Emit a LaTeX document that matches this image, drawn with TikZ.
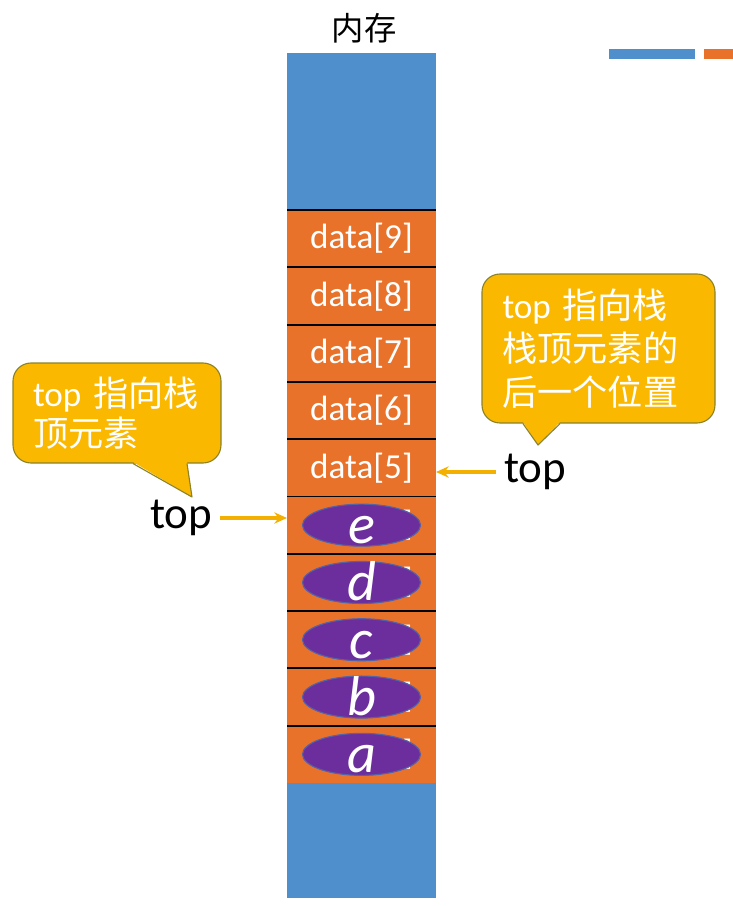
\documentclass[tikz,border=0pt]{standalone}
\usepackage{fontspec}
\setmainfont{Carlito}
\newfontfamily\cjk{Noto Sans CJK SC}
\usepackage{tikz}
\usetikzlibrary{positioning, shapes.geometric, arrows.meta, calc}
\definecolor{MemBlue}{RGB}{79,143,204}
\definecolor{CellOrange}{RGB}{233,114,43}
\definecolor{ItemPurple}{RGB}{108,46,156}
\definecolor{ItemEdge}{RGB}{84,98,168}
\definecolor{NoteGold}{RGB}{250,184,0}
\definecolor{NoteEdge}{RGB}{140,130,40}
\definecolor{PtrGold}{RGB}{244,176,0}
\NewDocumentCommand{\itemletter}{m}{\raisebox{-0.46cm}[0pt][0pt]{\itshape #1}}

\begin{document}
\begin{tikzpicture}[node distance=0pt,>={Stealth[length=9pt,width=8pt]},
        block/.style={fill=MemBlue,minimum width=3.725cm,inner sep=0pt,outer sep=0pt},
        cell/.style={fill=CellOrange,minimum width=3.725cm,minimum height=1.4325cm,inner sep=0pt,outer sep=0pt,
          text=white,font=\fontsize{25}{25}\selectfont},
        item/.style={ellipse,fill=ItemPurple,draw=ItemEdge,thick,minimum width=2.95cm,minimum height=1.05cm,
          inner sep=0pt,text=white,font=\fontsize{40}{40}\selectfont},
        note/.style={rounded corners=0.45cm,fill=NoteGold,draw=NoteEdge,thick,inner sep=0pt,text=white,align=left},
        ptr/.style={->,draw=PtrGold,line width=2.4pt},
        divider/.style={line width=1.4pt,black},
        toplabel/.style={font=\fontsize{32}{32}\selectfont}]

      \useasboundingbox (0,0) rectangle (18.325,-22.65);

      % memory column
      \node[font=\cjk\fontsize{23}{23}\selectfont] (memlabel) at (9.1,-0.7) {内存};
      \node[block,minimum height=3.925cm] (upper) at (9.0375,-3.2875) {};
      \node[cell,below=of upper] (c9) {data[9]};
      \node[cell,below=of c9] (c8) {data[8]};
      \node[cell,below=of c8] (c7) {data[7]};
      \node[cell,below=of c7] (c6) {data[6]};
      \node[cell,below=of c6] (c5) {data[5]};
      \node[cell,below=of c5] (c4) {data[4]};
      \node[cell,below=of c4] (c3) {data[3]};
      \node[cell,below=of c3] (c2) {data[2]};
      \node[cell,below=of c2] (c1) {data[1]};
      \node[cell,below=of c1] (c0) {data[0]};
      \node[block,minimum height=2.875cm,below=of c0] (lower) {};
      \foreach \i in {0,...,9}
        \draw[divider] (c\i.north west) -- (c\i.north east);

      % stacked elements
      \node[item] (ie) at (c4) {\itemletter{e}};
      \node[item] (id) at (c3) {\itemletter{d}};
      \node[item] (ic) at (c2) {\itemletter{c}};
      \node[item] (ib) at (c1) {\itemletter{b}};
      \node[item] (ia) at (c0) {\itemletter{a}};

      % top pointers
      \node[toplabel] (topL) at (4.525,-12.95) {top};
      \node[toplabel] (topR) at (13.375,-11.8) {top};
      \draw[ptr,shorten <=2pt] (topL.east) -- (topL.east -| c4.west);
      \draw[ptr,shorten <=2pt] (topR.west) -- (topR.west -| c5.east);

      % callouts
      \node[note,minimum width=5.2cm,minimum height=2.5cm,text width=4.2cm,font=\fontsize{25}{28}\selectfont]
        (noteL) at (2.925,-10.325) {top {\cjk 指向栈}\\{\cjk 顶元素}};
      \coordinate (tipL) at (4.8,-12.425);
      \fill[NoteGold] ($(noteL.south)+(0.4,0.04)$) -- (tipL) -- ($(noteL.south)+(1.75,0.04)$) -- cycle;
      \draw[NoteEdge,thick,line join=round] ($(noteL.south)+(0.4,0)$) -- (tipL) -- ($(noteL.south)+(1.75,0)$);

      \node[note,minimum width=5.825cm,minimum height=3.725cm,text width=4.8cm,font=\fontsize{25}{31}\selectfont]
        (noteR) at (14.9625,-8.7125) {top {\cjk 指向栈}\\{\cjk 栈顶元素的}\\{\cjk 后一个位置}};
      \coordinate (tipR) at (13.45,-11.125);
      \fill[NoteGold] ($(noteR.south)+(-1.89,0.04)$) -- (tipR) -- ($(noteR.south)+(-0.96,0.04)$) -- cycle;
      \draw[NoteEdge,thick,line join=round] ($(noteR.south)+(-1.89,0)$) -- (tipR) -- ($(noteR.south)+(-0.96,0)$);

      % slide marks
      \fill[MemBlue] (15.225,-1.225) rectangle (17.375,-1.475);
      \fill[CellOrange] (17.6,-1.225) rectangle (18.325,-1.475);
    \end{tikzpicture}
\end{document}
